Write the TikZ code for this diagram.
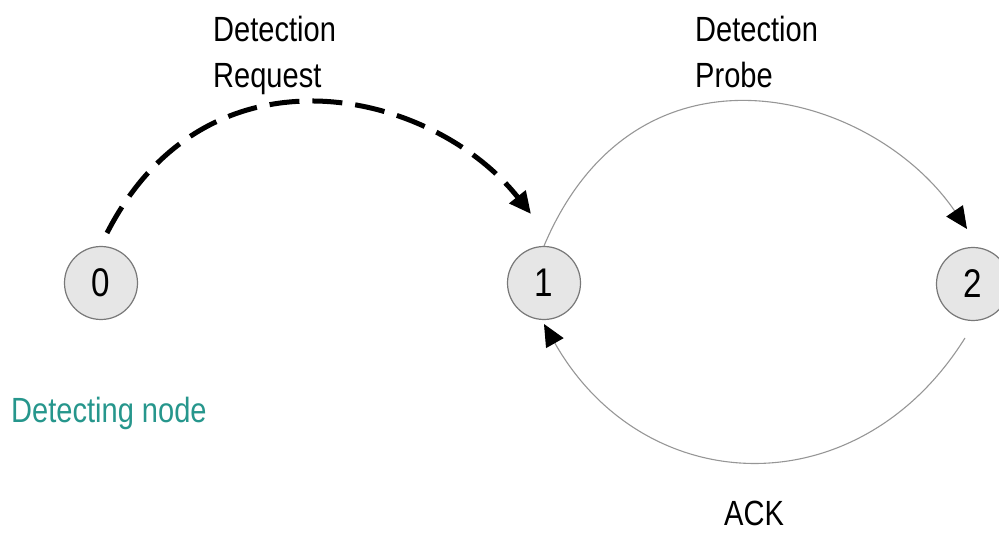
\documentclass[tikz,border=0pt]{standalone}
\usepackage{fontspec}
\setmainfont{Liberation Sans}
\newfontfamily\nf[FakeStretch=0.83]{Liberation Sans}
\usetikzlibrary{arrows.meta}
\definecolor{nodefill}{RGB}{230,230,230}
\definecolor{nodeline}{RGB}{120,120,120}
\definecolor{arcline}{RGB}{150,150,150}
\definecolor{tealtext}{RGB}{38,150,140}
\tikzset{
  netnode/.style={circle, draw=nodeline, line width=1.2pt, fill=nodefill, minimum size=73pt, inner sep=0pt, font=\nf\fontsize{40}{40}\selectfont},
  lbl/.style={inner sep=0pt, align=left, font=\nf\fontsize{35}{46}\selectfont},
  reqarrow/.style={line width=5pt, dash pattern=on 30pt off 13pt, -{Triangle[length=22pt,width=20pt]}},
  thinarc/.style={draw=arcline, line width=1.1pt, -{Triangle[length=22pt,width=20pt,color=black,fill=black]}}
}
\begin{document}
\begin{tikzpicture}[x=1pt,y=-1pt]
\useasboundingbox (0,0) rectangle (999,537);
\node[netnode] (n0) at (101,283) {0};
\node[netnode] (n1) at (544,283) {1};
\node[netnode] (n2) at (973,284) {2};
\coordinate (s0) at (107,233);
\coordinate (t1) at (531,214);
\coordinate (t2) at (967,229);
\coordinate (s2) at (965,338);
\coordinate (t1b) at (544,324);
\draw[reqarrow] (s0) .. controls (208,36) and (433,90) .. (t1);
\draw[thinarc] (n1.north) .. controls (637,26) and (872,90) .. (t2);
\draw[thinarc] (s2) .. controls (858,509) and (644,500) .. (t1b);
\node[lbl, anchor=base west] (lreq) at (213,88) {Detection\\Request};
\node[lbl, anchor=base west] (lprobe) at (695,88) {Detection\\Probe};
\node[lbl, anchor=base west, text=tealtext] (ldet) at (11,422) {Detecting node};
\node[lbl, anchor=base west] (lack) at (724,525) {ACK};
\end{tikzpicture}
\end{document}
